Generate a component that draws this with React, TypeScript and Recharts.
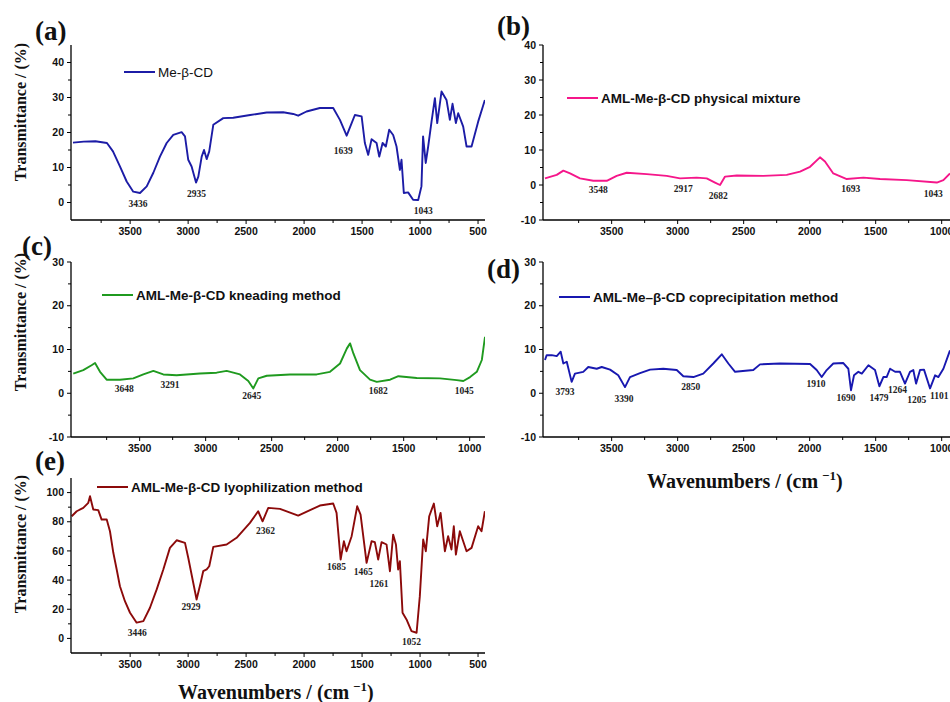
import { Legend, Line, LineChart, ReferenceDot, XAxis, YAxis } from "recharts";

// (a) Me-β-CD
const meBcdWn = [
  3993, 3900, 3800, 3700, 3648, 3588, 3530, 3473, 3415, 3357,
  3300, 3243, 3185, 3128, 3056, 3027, 2999, 2970, 2932, 2912,
  2883, 2863, 2840, 2818, 2783, 2697, 2611, 2465, 2323, 2180,
  2094, 2051, 1979, 1864, 1749, 1691, 1633, 1590, 1562, 1504,
  1476, 1447, 1418, 1375, 1352, 1323, 1295, 1266, 1232, 1203,
  1174, 1160, 1140, 1103, 1060, 1016, 988, 974, 951, 930,
  901, 872, 852, 815, 772, 743, 720, 691, 671, 628,
  599, 556, 499, 441,
];
const meBcdT = [
  17.1, 17.4, 17.5, 17.0, 14.6, 10.3, 6.0, 3.1, 2.7, 4.6,
  8.5, 13.1, 17.0, 19.3, 20.1, 18.9, 12.2, 10.3, 5.7, 7.4,
  13.1, 15.0, 12.4, 14.6, 22.2, 24.1, 24.2, 25.0, 25.7, 25.8,
  25.3, 24.8, 26.0, 27.0, 27.0, 23.6, 19.1, 22.7, 25.0, 24.6,
  17.0, 13.6, 18.1, 17.0, 13.1, 17.0, 16.0, 20.8, 19.3, 16.0,
  9.3, 12.2, 2.7, 2.9, 0.8, 0.7, 4.6, 18.9, 11.3, 16.0,
  23.1, 29.8, 22.7, 31.7, 29.3, 23.6, 28.2, 22.7, 25.5, 21.7,
  16.0, 16.0, 23.1, 29.3,
];
const meBcdPeakWn = [3432, 2927, 1663, 973];
const meBcdPeakT = [-0.4, 2.5, 14.9, -2.3];
const meBcdPeakText = ["3436", "2935", "1639", "1043"];

// (b) physical mixture
const physWn = [
  4005, 3916, 3866, 3815, 3740, 3639, 3537, 3462, 3386, 3234,
  3083, 2982, 2856, 2780, 2717, 2679, 2641, 2552, 2351, 2174,
  2073, 1997, 1922, 1884, 1821, 1719, 1593, 1467, 1265, 1037,
  987, 937,
];
const physT = [
  1.9, 2.9, 4.1, 3.3, 1.9, 1.2, 1.2, 2.6, 3.5, 3.1,
  2.6, 1.9, 2.1, 1.9, 0.7, 0.0, 2.4, 2.7, 2.6, 2.9,
  3.8, 5.2, 7.9, 6.7, 3.3, 1.7, 2.1, 1.7, 1.4, 0.7,
  1.4, 3.3,
];
const physPeakWn = [3601, 2957, 2692, 1689, 1063];
const physPeakT = [-1.2, -0.9, -2.9, -1.1, -2.4];
const physPeakText = ["3548", "2917", "2682", "1693", "1043"];

// (c) kneading method
const kneadWn = [
  4003, 3927, 3864, 3838, 3800, 3750, 3649, 3548, 3472, 3396,
  3321, 3220, 3043, 2917, 2841, 2740, 2677, 2639, 2601, 2537,
  2361, 2159, 2058, 1982, 1931, 1906, 1881, 1831, 1755, 1704,
  1603, 1540, 1401, 1225, 1098, 1048, 997, 946, 908, 884,
];
const kneadT = [
  4.5, 5.3, 6.4, 6.9, 4.9, 3.1, 3.1, 3.4, 4.3, 5.1,
  4.3, 4.1, 4.5, 4.7, 5.1, 4.3, 2.8, 1.1, 3.4, 4.0,
  4.3, 4.3, 4.9, 6.8, 10.2, 11.4, 9.1, 5.3, 3.1, 2.6,
  3.1, 3.9, 3.5, 3.4, 3.0, 2.8, 3.7, 4.9, 7.6, 12.9,
];
const kneadPeakWn = [3616, 3270, 2651, 1692, 1042];
const kneadPeakT = [1.1, 2.0, -0.5, 0.5, 0.7];
const kneadPeakText = ["3648", "3291", "2645", "1682", "1045"];

// (d) coprecipitation method
const coprecWn = [
  4005, 3992, 3954, 3916, 3886, 3866, 3840, 3803, 3778, 3715,
  3677, 3613, 3575, 3512, 3450, 3399, 3361, 3285, 3209, 3109,
  3007, 2957, 2881, 2806, 2730, 2666, 2616, 2565, 2427, 2376,
  2225, 1997, 1947, 1909, 1871, 1821, 1745, 1707, 1687, 1664,
  1631, 1605, 1555, 1505, 1472, 1442, 1417, 1391, 1353, 1316,
  1278, 1240, 1215, 1194, 1164, 1134, 1088, 1050, 1025, 987,
  937,
];
const coprecT = [
  7.6, 8.7, 8.7, 8.5, 9.5, 6.8, 7.2, 2.6, 4.5, 4.9,
  6.0, 5.6, 6.0, 5.4, 4.1, 1.4, 3.7, 4.6, 5.4, 5.6,
  5.3, 3.9, 3.7, 4.5, 6.8, 8.9, 6.8, 4.9, 5.3, 6.6,
  6.8, 6.7, 5.3, 3.7, 5.3, 6.8, 6.9, 5.6, 0.7, 4.1,
  4.9, 4.5, 6.4, 5.3, 1.6, 3.7, 3.7, 5.6, 4.9, 4.9,
  2.2, 4.9, 5.3, 2.2, 5.3, 5.4, 1.1, 4.1, 3.7, 5.6,
  9.8,
];
const coprecPeakWn = [3853, 3406, 2901, 1952, 1724, 1475, 1335, 1189, 1018];
const coprecPeakT = [0.3, -1.2, 1.4, 2.1, -1.0, -0.9, 0.8, -1.4, -0.5];
const coprecPeakText = ["3793", "3390", "2850", "1910", "1690", "1479", "1264", "1205", "1101"];

// (e) lyophilization method
const lyoWn = [
  4004, 3961, 3904, 3861, 3846, 3818, 3775, 3746, 3702, 3674,
  3645, 3616, 3588, 3545, 3501, 3444, 3386, 3329, 3271, 3214,
  3157, 3099, 3027, 2999, 2956, 2927, 2892, 2870, 2840, 2818,
  2783, 2668, 2582, 2467, 2396, 2358, 2309, 2208, 2051, 1864,
  1749, 1720, 1685, 1657, 1634, 1590, 1542, 1513, 1461, 1418,
  1390, 1361, 1332, 1289, 1260, 1232, 1208, 1189, 1174, 1151,
  1117, 1074, 1030, 1002, 973, 950, 921, 881, 852, 823,
  786, 758, 729, 709, 691, 657, 599, 556, 499, 470,
  441,
];
const lyoT = [
  83.8, 87.2, 89.5, 93.0, 97.5, 88.4, 88.0, 81.5, 81.5, 73.5,
  58.7, 47.3, 35.8, 25.5, 17.6, 10.8, 11.9, 21.0, 33.6, 47.3,
  62.1, 67.3, 65.5, 55.3, 38.2, 26.7, 38.2, 46.1, 47.3, 49.5,
  62.8, 64.4, 69.0, 79.2, 87.2, 80.3, 89.5, 88.8, 84.2, 91.1,
  92.5, 86.1, 54.1, 66.6, 59.8, 70.1, 90.6, 84.9, 51.8, 66.6,
  66.0, 54.1, 66.0, 64.4, 46.1, 71.2, 64.4, 47.3, 52.9, 17.6,
  13.0, 5.0, 3.9, 29.0, 67.8, 59.8, 83.8, 92.5, 76.9, 86.1,
  59.8, 70.1, 61.0, 76.9, 57.5, 73.5, 59.8, 62.1, 76.9, 73.5,
  87.2,
];
const lyoPeakWn = [3438, 2976, 2332, 1720, 1490, 1355, 1073];
const lyoPeakT = [4.3, 21.7, 74.2, 49.1, 46.1, 37.7, -2.5];
const lyoPeakText = ["3446", "2929", "2362", "1685", "1465", "1261", "1052"];

const xMajorWide = [3500, 3000, 2500, 2000, 1500, 1000, 500];
const xMinorWide = [3750, 3250, 2750, 2250, 1750, 1250, 750];
const xMajorNarrow = [3500, 3000, 2500, 2000, 1500, 1000];
const xMinorNarrow = [3750, 3250, 2750, 2250, 1750, 1250];
const yMajorA = [0, 10, 20, 30, 40];
const yMinorA = [5, 15, 25, 35];
const yMajorB = [-10, 0, 10, 20, 30, 40];
const yMinorB = [-5, 5, 15, 25, 35];
const yMajorCD = [-10, 0, 10, 20, 30];
const yMinorCD = [-5, 5, 15, 25];
const yMajorE = [0, 20, 40, 60, 80, 100];
const yMinorE = [10, 30, 50, 70, 90];

const sans = "'Liberation Sans', Arial, sans-serif";
const serif = "'Liberation Serif', 'Times New Roman', serif";
const tickFont = { fontFamily: sans, fontSize: 10.5, fontWeight: 700, fill: "#111" };

const YW = 45;
const MT = 5;

const xTick = (p: any, major: number[]) => {
  const isMajor = major.includes(p.payload.value);
  return (
    <g>
      <line x1={p.x} x2={p.x} y1={p.y} y2={p.y + (isMajor ? 4 : 3)} stroke="#000" strokeWidth={1} />
      {isMajor && (
        <text x={p.x} y={p.y + 15} textAnchor="middle" style={tickFont}>
          {p.payload.value}
        </text>
      )}
    </g>
  );
};

const yTick = (p: any, major: number[]) => {
  const isMajor = major.includes(p.payload.value);
  return (
    <g>
      <line x1={p.x} x2={p.x - (isMajor ? 4 : 3)} y1={p.y} y2={p.y} stroke="#000" strokeWidth={1} />
      {isMajor && (
        <text x={p.x - 7} y={p.y} dy="0.35em" textAnchor="end" style={tickFont}>
          {p.payload.value}
        </text>
      )}
    </g>
  );
};

type PanelProps = {
  axisX: number;
  plotTop: number;
  plotBottom: number;
  plotRight: number;
  xDomain: [number, number];
  yDomain: [number, number];
  xMajor: number[];
  xMinor: number[];
  yMajor: number[];
  yMinor: number[];
  wn: number[];
  t: number[];
  peakWn: number[];
  peakT: number[];
  peakText: string[];
  color: string;
  name: string;
  legendX: number;
  legendY: number;
  legendBold: boolean;
};

const Panel = (s: PanelProps) => {
  const left = s.axisX - YW;
  const top = s.plotTop - MT;
  const width = s.plotRight - s.axisX + YW + 3;
  const height = s.plotBottom - s.plotTop + MT + 30;
  const data = s.wn.map((w, i) => ({ wn: w, t: s.t[i] }));
  return (
    <div style={{ position: "absolute", left, top }}>
      <LineChart width={width} height={height} data={data} margin={{ top: MT, right: 3, left: 0, bottom: 0 }}>
        <XAxis
          type="number"
          dataKey="wn"
          domain={s.xDomain}
          reversed
          allowDataOverflow
          ticks={[...s.xMajor, ...s.xMinor]}
          interval={0}
          tickSize={0}
          tickMargin={0}
          tickLine={false}
          tick={(p: any) => xTick(p, s.xMajor)}
          axisLine={{ stroke: "#000", strokeWidth: 1.3 }}
          height={30}
        />
        <YAxis
          type="number"
          domain={s.yDomain}
          allowDataOverflow
          ticks={[...s.yMajor, ...s.yMinor]}
          interval={0}
          tickSize={0}
          tickMargin={0}
          tickLine={false}
          tick={(p: any) => yTick(p, s.yMajor)}
          axisLine={{ stroke: "#000", strokeWidth: 1.3 }}
          width={YW}
        />
        <Legend
          layout="horizontal"
          align="center"
          verticalAlign="middle"
          width={320}
          wrapperStyle={{ left: s.legendX - left, top: s.legendY - 9 - top, width: 320 }}
          content={() => (
            <div style={{ display: "flex", alignItems: "center", height: 18, whiteSpace: "nowrap" }}>
              <div style={{ width: 31, height: 2, background: s.color }} />
              <span
                style={{
                  marginLeft: 3,
                  fontFamily: sans,
                  fontSize: 13.5,
                  fontWeight: s.legendBold ? 700 : 400,
                  color: "#111",
                }}
              >
                {s.name}
              </span>
            </div>
          )}
        />
        <Line
          type="linear"
          dataKey="t"
          stroke={s.color}
          strokeWidth={1.9}
          strokeLinejoin="round"
          dot={false}
          isAnimationActive={false}
        />
        {s.peakWn.map((w, i) => (
          <ReferenceDot
            key={s.peakText[i]}
            x={w}
            y={s.peakT[i]}
            r={0}
            fill="none"
            stroke="none"
            label={{
              value: s.peakText[i],
              position: "center",
              fontFamily: serif,
              fontSize: 9.5,
              fontWeight: 700,
              fill: "#222",
            }}
          />
        ))}
      </LineChart>
    </div>
  );
};

const App = () => {
  return (
    <div
      style={{
        position: "absolute",
        left: 0,
        top: 0,
        width: 950,
        height: 702,
        overflow: "hidden",
        background: "#fff",
      }}
    >
      <Panel
        axisX={71} plotTop={45} plotBottom={220} plotRight={485}
        xDomain={[440, 4010]} yDomain={[-5, 45]}
        xMajor={xMajorWide} xMinor={xMinorWide} yMajor={yMajorA} yMinor={yMinorA}
        wn={meBcdWn} t={meBcdT}
        peakWn={meBcdPeakWn} peakT={meBcdPeakT} peakText={meBcdPeakText}
        color="#1c1ca6" name="Me-β-CD" legendX={124} legendY={72} legendBold={false}
      />
      <Panel
        axisX={543} plotTop={45} plotBottom={220} plotRight={950}
        xDomain={[937, 4020]} yDomain={[-10, 40]}
        xMajor={xMajorNarrow} xMinor={xMinorNarrow} yMajor={yMajorB} yMinor={yMinorB}
        wn={physWn} t={physT}
        peakWn={physPeakWn} peakT={physPeakT} peakText={physPeakText}
        color="#f5168a" name="AML-Me-β-CD physical mixture" legendX={567} legendY={98} legendBold
      />
      <Panel
        axisX={71} plotTop={262} plotBottom={437} plotRight={485}
        xDomain={[884, 4020]} yDomain={[-10, 30]}
        xMajor={xMajorNarrow} xMinor={xMinorNarrow} yMajor={yMajorCD} yMinor={yMinorCD}
        wn={kneadWn} t={kneadT}
        peakWn={kneadPeakWn} peakT={kneadPeakT} peakText={kneadPeakText}
        color="#1f9a1f" name="AML-Me-β-CD kneading method" legendX={102} legendY={295} legendBold
      />
      <Panel
        axisX={543} plotTop={262} plotBottom={437} plotRight={950}
        xDomain={[937, 4020]} yDomain={[-10, 30]}
        xMajor={xMajorNarrow} xMinor={xMinorNarrow} yMajor={yMajorCD} yMinor={yMinorCD}
        wn={coprecWn} t={coprecT}
        peakWn={coprecPeakWn} peakT={coprecPeakT} peakText={coprecPeakText}
        color="#1818b0" name="AML-Me–β-CD coprecipitation method" legendX={559} legendY={297} legendBold
      />
      <Panel
        axisX={71} plotTop={478} plotBottom={653} plotRight={485}
        xDomain={[440, 4010]} yDomain={[-10, 110]}
        xMajor={xMajorWide} xMinor={xMinorWide} yMajor={yMajorE} yMinor={yMinorE}
        wn={lyoWn} t={lyoT}
        peakWn={lyoPeakWn} peakT={lyoPeakT} peakText={lyoPeakText}
        color="#8c0a0a" name="AML-Me-β-CD lyophilization method" legendX={97} legendY={487} legendBold
      />
      <svg
        width={950}
        height={702}
        style={{ position: "absolute", left: 0, top: 0, pointerEvents: "none" }}
      >
        <g style={{ fontFamily: serif, fontWeight: 700, fontSize: 27, fill: "#111" }}>
          <text x={35} y={40}>(a)</text>
          <text x={497} y={35}>(b)</text>
          <text x={22} y={255}>(c)</text>
          <text x={487} y={278}>(d)</text>
          <text x={35} y={470}>(e)</text>
        </g>
        <g style={{ fontFamily: serif, fontWeight: 700, fontSize: 16, fill: "#111" }}>
          <text x={26} y={112} textAnchor="middle" transform="rotate(-90 26 112)">Transmittance / (%)</text>
          <text x={26} y={322} textAnchor="middle" transform="rotate(-90 26 322)">Transmittance / (%)</text>
          <text x={26} y={544} textAnchor="middle" transform="rotate(-90 26 544)">Transmittance / (%)</text>
        </g>
        <g style={{ fontFamily: serif, fontWeight: 700, fontSize: 20, fill: "#111" }}>
          <text x={647} y={488}>
            Wavenumbers / (cm<tspan dx={4} dy={-8} fontSize={13}>−1</tspan><tspan dy={8}>)</tspan>
          </text>
          <text x={178} y={699}>
            Wavenumbers / (cm<tspan dx={4} dy={-8} fontSize={13}>−1</tspan><tspan dy={8}>)</tspan>
          </text>
        </g>
      </svg>
    </div>
  );
};

export default App;
